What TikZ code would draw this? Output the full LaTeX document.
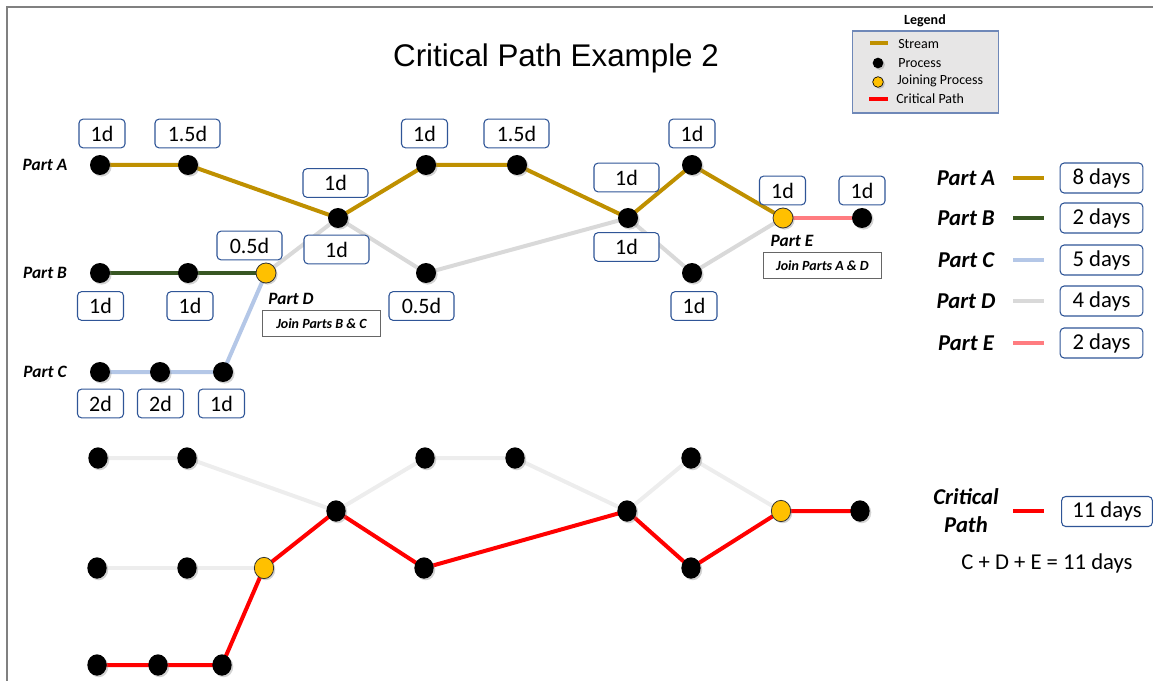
\documentclass[tikz,border=0pt]{standalone}
\usepackage{fontspec}
\setmainfont{Carlito}
\newfontfamily\arialf{Liberation Sans}
\usetikzlibrary{shapes.geometric,shadows,backgrounds}
\definecolor{goldc}{HTML}{BF9000}
\definecolor{greenc}{HTML}{385723}
\definecolor{bluec}{HTML}{B4C7E7}
\definecolor{grayc}{HTML}{D9D9D9}
\definecolor{lgrayc}{HTML}{EDEDED}
\definecolor{pinkc}{HTML}{FF7C80}
\definecolor{redc}{HTML}{FF0000}
\definecolor{joinc}{HTML}{FFC000}
\definecolor{boxc}{HTML}{2F5597}
\definecolor{framec}{HTML}{808080}
\definecolor{legfill}{HTML}{E7E6E6}
\definecolor{legdraw}{HTML}{6F88B8}
\begin{document}
\begin{tikzpicture}[x=0.75pt,y=-0.75pt,
  shad/.style={drop shadow={opacity=0.35,shadow xshift=1.2pt,shadow yshift=-1.2pt}},
  proc/.style={circle,fill=black,minimum size=15pt,inner sep=0pt,shad},
  joinp/.style={circle,fill=joinc,draw=black!80,line width=0.6pt,minimum size=15pt,inner sep=0pt,shad},
  bproc/.style={ellipse,fill=black,minimum width=14.5pt,minimum height=16pt,inner sep=0pt,shad},
  bjoin/.style={ellipse,fill=joinc,draw=black!80,line width=0.6pt,minimum width=14.5pt,minimum height=16pt,inner sep=0pt,shad},
  lproc/.style={circle,fill=black,minimum size=8pt,inner sep=0pt,shad},
  ljoin/.style={circle,fill=joinc,draw=black,line width=0.5pt,minimum size=8pt,inner sep=0pt,shad},
  dbox/.style={draw=boxc,rounded corners=3pt,line width=0.8pt,minimum width=34.5pt,minimum height=21.5pt,inner sep=0pt,fill=white,font=\fontsize{16.5}{18}\selectfont},
  dboxw/.style={dbox,minimum width=48.75pt},
  daysbox/.style={dbox,minimum width=62pt,minimum height=22.5pt,font=\fontsize{17}{19}\selectfont},
  partl/.style={font=\fontsize{13}{15}\selectfont\bfseries\itshape},
  partr/.style={font=\fontsize{17}{19}\selectfont\bfseries\itshape},
  joinbox/.style={draw=black!60,line width=0.8pt,minimum width=88pt,minimum height=20pt,inner sep=0pt,font=\fontsize{10.5}{12}\selectfont\bfseries\itshape},
  legt/.style={font=\fontsize{10.5}{12}\selectfont,anchor=west,inner sep=0pt},
  strm/.style={line width=3pt},
  bstrm/.style={line width=3pt}
]
\useasboundingbox (0,0) rectangle (1153,681);
\draw[framec,line width=2.2pt] (7,681) -- (7,7) -- (1153,7);

% title
\node (title) at (556,58) {\arialf\fontsize{23.5}{28}\selectfont Critical Path Example 2};

% legend
\node[font=\fontsize{10.5}{12}\selectfont\bfseries] (legtitle) at (925,21) {Legend};
\node[draw=legdraw,fill=legfill,line width=0.8pt,minimum width=110pt,minimum height=61.5pt,inner sep=0pt] (legbox) at (925.5,72) {};
\coordinate (ls1) at (870,43); \coordinate (ls2) at (888,43);
\draw[goldc,line width=2.5pt] (ls1) -- (ls2);
\node[legt] (lt1) at (898,44) {Stream};
\node[lproc] (lp) at (878,63) {};
\node[legt] (lt2) at (898,63) {Process};
\node[ljoin] (lj) at (878,82) {};
\node[legt] (lt3) at (897,81) {Joining Process};
\coordinate (lr1) at (869,99); \coordinate (lr2) at (888,99);
\draw[redc,line width=2.5pt] (lr1) -- (lr2);
\node[legt] (lt4) at (896,99) {Critical Path};

% left part labels
\node[partl] (pa) at (45,165) {Part A};
\node[partl] (pb) at (45,273) {Part B};
\node[partl] (pc) at (45,372) {Part C};

% top diagram nodes
\node[proc] (A1) at (100,165) {};
\node[proc] (A2) at (188,165) {};
\node[proc] (X1) at (338,218) {};
\node[proc] (A3) at (426,165) {};
\node[proc] (A4) at (517,165) {};
\node[proc] (X2) at (628,218) {};
\node[proc] (A5) at (692,165) {};
\node[joinp] (E1) at (783,218) {};
\node[proc] (E2) at (862,218) {};
\node[proc] (B1) at (100,273) {};
\node[proc] (B2) at (188,273) {};
\node[joinp] (D0) at (266,273) {};
\node[proc] (C1) at (100,372) {};
\node[proc] (C2) at (160,372) {};
\node[proc] (C3) at (223,372) {};
\node[proc] (D1) at (426,273) {};
\node[proc] (D2) at (692,273) {};

\begin{scope}[on background layer]
\draw[grayc,strm] (D0.center) -- (X1.center) -- (D1.center) -- (X2.center) -- (D2.center) -- (E1.center);
\draw[bluec,strm] (C1.center) -- (C2.center) -- (C3.center) -- (D0.center);
\draw[greenc,strm] (B1.center) -- (B2.center) -- (D0.center);
\draw[goldc,strm] (A1.center) -- (A2.center) -- (X1.center) -- (A3.center) -- (A4.center) -- (X2.center) -- (A5.center) -- (E1.center);
\draw[pinkc,strm] (E1.center) -- (E2.center);
\end{scope}

% duration boxes
\node[dbox] (dA1) at (102,133.5) {1d};
\node[dboxw] (dA2) at (187.5,133.5) {1.5d};
\node[dboxw] (dX1a) at (335.5,183) {1d};
\node[dboxw] (dX1b) at (336.5,249.5) {1d};
\node[dboxw] (dD0) at (249.5,245.5) {0.5d};
\node[dbox] (dB1) at (100.5,306) {1d};
\node[dbox] (dB2) at (190,306) {1d};
\node[dboxw] (dD1) at (421.5,306) {0.5d};
\node[dbox] (dA3) at (424.5,133.5) {1d};
\node[dboxw] (dA4) at (516.5,133.5) {1.5d};
\node[dboxw] (dX2a) at (626.5,177.5) {1d};
\node[dboxw] (dX2b) at (626.5,247) {1d};
\node[dbox] (dA5) at (692,133.5) {1d};
\node[dbox] (dD2) at (694,306) {1d};
\node[dbox] (dE1) at (782.5,190.5) {1d};
\node[dbox] (dE2) at (862,190.5) {1d};
\node[dbox] (dC1) at (100.5,403.5) {2d};
\node[dbox] (dC2) at (160.5,403.5) {2d};
\node[dbox] (dC3) at (221.5,403.5) {1d};

% join labels
\node[partl] (pd) at (291,299) {Part D};
\node[joinbox] (jd) at (321.5,323.5) {Join Parts B \& C};
\node[partl] (pe) at (792,241) {Part E};
\node[joinbox] (je) at (822.5,265.5) {Join Parts A \& D};

% right legend
\foreach \n/\lab/\c/\d/\y in {ra/Part A/goldc/8 days/178, rb/Part B/greenc/2 days/218, rc/Part C/bluec/5 days/260, rd/Part D/grayc/4 days/301, re/Part E/pinkc/2 days/343}{
  \node[partr] (\n) at (966,\y) {\lab};
  \coordinate (\n l1) at (1013,\y); \coordinate (\n l2) at (1044,\y);
  \draw[\c,line width=3pt] (\n l1) -- (\n l2);
  \node[daysbox] (\n box) at (1101.5,\y) {\d};
}
\node[partr,align=center,font=\fontsize{17}{21}\selectfont\bfseries\itshape] (cp) at (966,511) {Critical\\Path};
\coordinate (cpl1) at (1013,511); \coordinate (cpl2) at (1044,511);
\draw[redc,line width=3pt] (cpl1) -- (cpl2);
\node[daysbox,minimum width=68pt] (cpbox) at (1107,511.5) {11 days};
\node[font=\fontsize{17}{19}\selectfont] (eq) at (1047,563) {C + D + E = 11 days};

% bottom diagram nodes
\node[bproc] (b1) at (98,458) {};
\node[bproc] (b2) at (187,458) {};
\node[bproc] (b3) at (425,458) {};
\node[bproc] (b4) at (515,458) {};
\node[bproc] (b5) at (691,458) {};
\node[bproc] (bx1) at (336,511) {};
\node[bproc] (bx2) at (627,511) {};
\node[bjoin] (be1) at (781,511) {};
\node[bproc] (be2) at (860,511) {};
\node[bproc] (m1) at (97,568) {};
\node[bproc] (m2) at (187,568) {};
\node[bjoin] (bd0) at (264,568) {};
\node[bproc] (bd1) at (424,568) {};
\node[bproc] (bd2) at (691,568) {};
\node[bproc] (c1) at (97,665) {};
\node[bproc] (c2) at (158,665) {};
\node[bproc] (c3) at (222,665) {};

\begin{scope}[on background layer]
\draw[lgrayc,bstrm] (b1.center) -- (b2.center) -- (bx1.center) -- (b3.center) -- (b4.center) -- (bx2.center) -- (b5.center) -- (be1.center);
\draw[lgrayc,bstrm] (m1.center) -- (m2.center) -- (bd0.center);
\draw[redc,bstrm] (c1.center) -- (c2.center) -- (c3.center) -- (bd0.center) -- (bx1.center) -- (bd1.center) -- (bx2.center) -- (bd2.center) -- (be1.center) -- (be2.center);
\end{scope}
\end{tikzpicture}
\end{document}
